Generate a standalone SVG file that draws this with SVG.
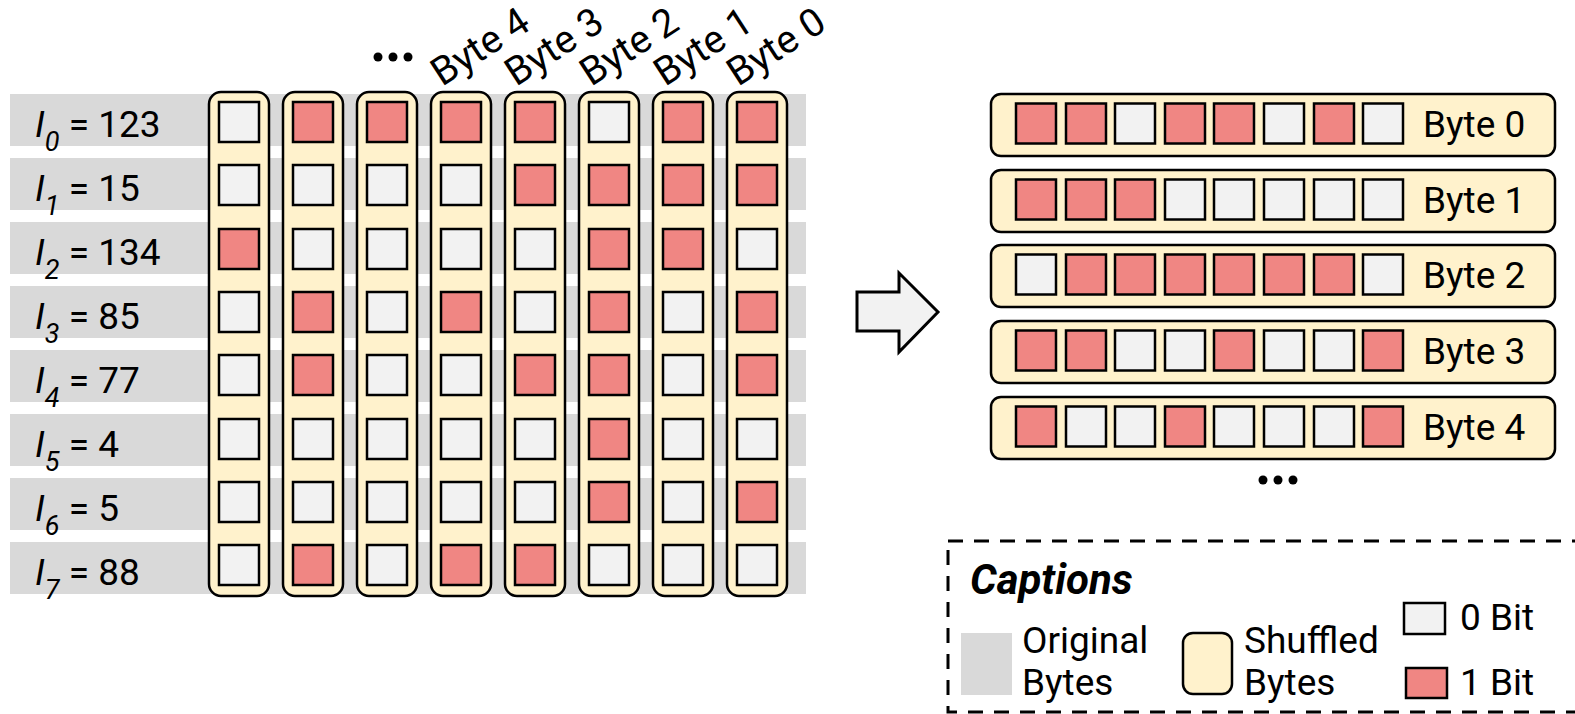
<svg xmlns="http://www.w3.org/2000/svg" width="1575" height="714" viewBox="0 0 1575 714">
  <style>
    text { font-family: Roboto, "Liberation Sans", sans-serif; fill: #000; }
    .lbl { font-size: 37px; }
    .hdr { font-size: 39px; }
    .sub { font-size: 27px; font-style: italic; }
    .it { font-style: italic; }
    .orig { fill: #d9d9d9; }
    .col { fill: #fff2cc; stroke: #000; stroke-width: 2.5; }
    .b0 { fill: #f2f2f2; stroke: #000; stroke-width: 2.5; }
    .b1 { fill: #f08683; stroke: #000; stroke-width: 2.5; }
    .dot { fill: #000; }
  </style>
  <defs>
    <rect id="s0" class="b0" width="40" height="40"/>
    <rect id="s1" class="b1" width="40" height="40"/>
  </defs>

  <!-- original bytes: grey bands with their values -->
  <g id="original-bytes">
    <g id="orig-0"><rect class="orig" x="10" y="94" width="796" height="52"/>
      <text class="lbl" x="35" y="137"><tspan class="it">I</tspan><tspan class="sub" dy="14">0</tspan><tspan dy="-14"> = 123</tspan></text></g>
    <g id="orig-1"><rect class="orig" x="10" y="158" width="796" height="52"/>
      <text class="lbl" x="35" y="201"><tspan class="it">I</tspan><tspan class="sub" dy="14">1</tspan><tspan dy="-14"> = 15</tspan></text></g>
    <g id="orig-2"><rect class="orig" x="10" y="222" width="796" height="52"/>
      <text class="lbl" x="35" y="265"><tspan class="it">I</tspan><tspan class="sub" dy="14">2</tspan><tspan dy="-14"> = 134</tspan></text></g>
    <g id="orig-3"><rect class="orig" x="10" y="286" width="796" height="52"/>
      <text class="lbl" x="35" y="329"><tspan class="it">I</tspan><tspan class="sub" dy="14">3</tspan><tspan dy="-14"> = 85</tspan></text></g>
    <g id="orig-4"><rect class="orig" x="10" y="350" width="796" height="52"/>
      <text class="lbl" x="35" y="393"><tspan class="it">I</tspan><tspan class="sub" dy="14">4</tspan><tspan dy="-14"> = 77</tspan></text></g>
    <g id="orig-5"><rect class="orig" x="10" y="414" width="796" height="52"/>
      <text class="lbl" x="35" y="457"><tspan class="it">I</tspan><tspan class="sub" dy="14">5</tspan><tspan dy="-14"> = 4</tspan></text></g>
    <g id="orig-6"><rect class="orig" x="10" y="478" width="796" height="52"/>
      <text class="lbl" x="35" y="521"><tspan class="it">I</tspan><tspan class="sub" dy="14">6</tspan><tspan dy="-14"> = 5</tspan></text></g>
    <g id="orig-7"><rect class="orig" x="10" y="542" width="796" height="52"/>
      <text class="lbl" x="35" y="585"><tspan class="it">I</tspan><tspan class="sub" dy="14">7</tspan><tspan dy="-14"> = 88</tspan></text></g>
  </g>

  <!-- bit columns (one per bit position) -->
  <g id="shuffled-columns">
    <g id="col-0"><rect class="col" x="209" y="92" width="60" height="504" rx="12"/>
      <use href="#s0" x="219" y="102"/><use href="#s0" x="219" y="165"/><use href="#s1" x="219" y="229"/><use href="#s0" x="219" y="292"/>
      <use href="#s0" x="219" y="355"/><use href="#s0" x="219" y="419"/><use href="#s0" x="219" y="482"/><use href="#s0" x="219" y="545"/></g>
    <g id="col-1"><rect class="col" x="283" y="92" width="60" height="504" rx="12"/>
      <use href="#s1" x="293" y="102"/><use href="#s0" x="293" y="165"/><use href="#s0" x="293" y="229"/><use href="#s1" x="293" y="292"/>
      <use href="#s1" x="293" y="355"/><use href="#s0" x="293" y="419"/><use href="#s0" x="293" y="482"/><use href="#s1" x="293" y="545"/></g>
    <g id="col-2"><rect class="col" x="357" y="92" width="60" height="504" rx="12"/>
      <use href="#s1" x="367" y="102"/><use href="#s0" x="367" y="165"/><use href="#s0" x="367" y="229"/><use href="#s0" x="367" y="292"/>
      <use href="#s0" x="367" y="355"/><use href="#s0" x="367" y="419"/><use href="#s0" x="367" y="482"/><use href="#s0" x="367" y="545"/></g>
    <g id="col-3"><rect class="col" x="431" y="92" width="60" height="504" rx="12"/>
      <use href="#s1" x="441" y="102"/><use href="#s0" x="441" y="165"/><use href="#s0" x="441" y="229"/><use href="#s1" x="441" y="292"/>
      <use href="#s0" x="441" y="355"/><use href="#s0" x="441" y="419"/><use href="#s0" x="441" y="482"/><use href="#s1" x="441" y="545"/></g>
    <g id="col-4"><rect class="col" x="505" y="92" width="60" height="504" rx="12"/>
      <use href="#s1" x="515" y="102"/><use href="#s1" x="515" y="165"/><use href="#s0" x="515" y="229"/><use href="#s0" x="515" y="292"/>
      <use href="#s1" x="515" y="355"/><use href="#s0" x="515" y="419"/><use href="#s0" x="515" y="482"/><use href="#s1" x="515" y="545"/></g>
    <g id="col-5"><rect class="col" x="579" y="92" width="60" height="504" rx="12"/>
      <use href="#s0" x="589" y="102"/><use href="#s1" x="589" y="165"/><use href="#s1" x="589" y="229"/><use href="#s1" x="589" y="292"/>
      <use href="#s1" x="589" y="355"/><use href="#s1" x="589" y="419"/><use href="#s1" x="589" y="482"/><use href="#s0" x="589" y="545"/></g>
    <g id="col-6"><rect class="col" x="653" y="92" width="60" height="504" rx="12"/>
      <use href="#s1" x="663" y="102"/><use href="#s1" x="663" y="165"/><use href="#s1" x="663" y="229"/><use href="#s0" x="663" y="292"/>
      <use href="#s0" x="663" y="355"/><use href="#s0" x="663" y="419"/><use href="#s0" x="663" y="482"/><use href="#s0" x="663" y="545"/></g>
    <g id="col-7"><rect class="col" x="727" y="92" width="60" height="504" rx="12"/>
      <use href="#s1" x="737" y="102"/><use href="#s1" x="737" y="165"/><use href="#s0" x="737" y="229"/><use href="#s1" x="737" y="292"/>
      <use href="#s1" x="737" y="355"/><use href="#s0" x="737" y="419"/><use href="#s1" x="737" y="482"/><use href="#s0" x="737" y="545"/></g>
  </g>

  <!-- column headings -->
  <g id="column-headers">
    <circle class="dot" cx="378" cy="57" r="4.5"/><circle class="dot" cx="393" cy="57" r="4.5"/><circle class="dot" cx="408" cy="57" r="4.5"/>
    <text class="hdr" transform="translate(442,87) rotate(-33)">Byte 4</text>
    <text class="hdr" transform="translate(516,87) rotate(-33)">Byte 3</text>
    <text class="hdr" transform="translate(591,87) rotate(-33)">Byte 2</text>
    <text class="hdr" transform="translate(665,87) rotate(-33)">Byte 1</text>
    <text class="hdr" transform="translate(738,87) rotate(-33)">Byte 0</text>
  </g>

  <g id="connectors">
    <polygon points="857,292 899,292 899,273 938,312 899,352 899,331 857,331" fill="#f2f2f2" stroke="#000" stroke-width="3" stroke-linejoin="miter"/>
  </g>

  <!-- regrouped bytes -->
  <g id="bytes-out">
    <g id="out-0"><rect class="col" x="991" y="94" width="564" height="62" rx="10"/>
      <use href="#s1" x="1016" y="103.5"/><use href="#s1" x="1066" y="103.5"/><use href="#s0" x="1115" y="103.5"/><use href="#s1" x="1165" y="103.5"/>
      <use href="#s1" x="1214" y="103.5"/><use href="#s0" x="1264" y="103.5"/><use href="#s1" x="1314" y="103.5"/><use href="#s0" x="1363" y="103.5"/>
      <text class="lbl" x="1423" y="137">Byte 0</text></g>
    <g id="out-1"><rect class="col" x="991" y="170" width="564" height="62" rx="10"/>
      <use href="#s1" x="1016" y="179.5"/><use href="#s1" x="1066" y="179.5"/><use href="#s1" x="1115" y="179.5"/><use href="#s0" x="1165" y="179.5"/>
      <use href="#s0" x="1214" y="179.5"/><use href="#s0" x="1264" y="179.5"/><use href="#s0" x="1314" y="179.5"/><use href="#s0" x="1363" y="179.5"/>
      <text class="lbl" x="1423" y="213">Byte 1</text></g>
    <g id="out-2"><rect class="col" x="991" y="245" width="564" height="62" rx="10"/>
      <use href="#s0" x="1016" y="254.5"/><use href="#s1" x="1066" y="254.5"/><use href="#s1" x="1115" y="254.5"/><use href="#s1" x="1165" y="254.5"/>
      <use href="#s1" x="1214" y="254.5"/><use href="#s1" x="1264" y="254.5"/><use href="#s1" x="1314" y="254.5"/><use href="#s0" x="1363" y="254.5"/>
      <text class="lbl" x="1423" y="288">Byte 2</text></g>
    <g id="out-3"><rect class="col" x="991" y="321" width="564" height="62" rx="10"/>
      <use href="#s1" x="1016" y="330.5"/><use href="#s1" x="1066" y="330.5"/><use href="#s0" x="1115" y="330.5"/><use href="#s0" x="1165" y="330.5"/>
      <use href="#s1" x="1214" y="330.5"/><use href="#s0" x="1264" y="330.5"/><use href="#s0" x="1314" y="330.5"/><use href="#s1" x="1363" y="330.5"/>
      <text class="lbl" x="1423" y="364">Byte 3</text></g>
    <g id="out-4"><rect class="col" x="991" y="397" width="564" height="62" rx="10"/>
      <use href="#s1" x="1016" y="406.5"/><use href="#s0" x="1066" y="406.5"/><use href="#s0" x="1115" y="406.5"/><use href="#s1" x="1165" y="406.5"/>
      <use href="#s0" x="1214" y="406.5"/><use href="#s0" x="1264" y="406.5"/><use href="#s0" x="1314" y="406.5"/><use href="#s1" x="1363" y="406.5"/>
      <text class="lbl" x="1423" y="440">Byte 4</text></g>
    <circle class="dot" cx="1263" cy="480" r="4.5"/><circle class="dot" cx="1278" cy="480" r="4.5"/><circle class="dot" cx="1293" cy="480" r="4.5"/>
  </g>

  <!-- key -->
  <g id="legend">
    <rect x="948" y="541" width="660" height="171" fill="none" stroke="#000" stroke-width="3" stroke-dasharray="15 11"/>
    <text x="970" y="594" font-size="42" font-weight="bold" font-style="italic">Captions</text>
    <rect class="orig" x="961" y="633" width="51" height="62"/>
    <text class="lbl" x="1022" y="653">Original</text>
    <text class="lbl" x="1022" y="695">Bytes</text>
    <rect class="col" x="1183" y="633" width="49" height="61" rx="10"/>
    <text class="lbl" x="1244" y="653">Shuffled</text>
    <text class="lbl" x="1244" y="695">Bytes</text>
    <rect class="b0" x="1404" y="603" width="41" height="31"/>
    <text class="lbl" x="1460" y="630">0 Bit</text>
    <rect class="b1" x="1406" y="668" width="41" height="30"/>
    <text class="lbl" x="1460" y="695">1 Bit</text>
  </g>
</svg>
